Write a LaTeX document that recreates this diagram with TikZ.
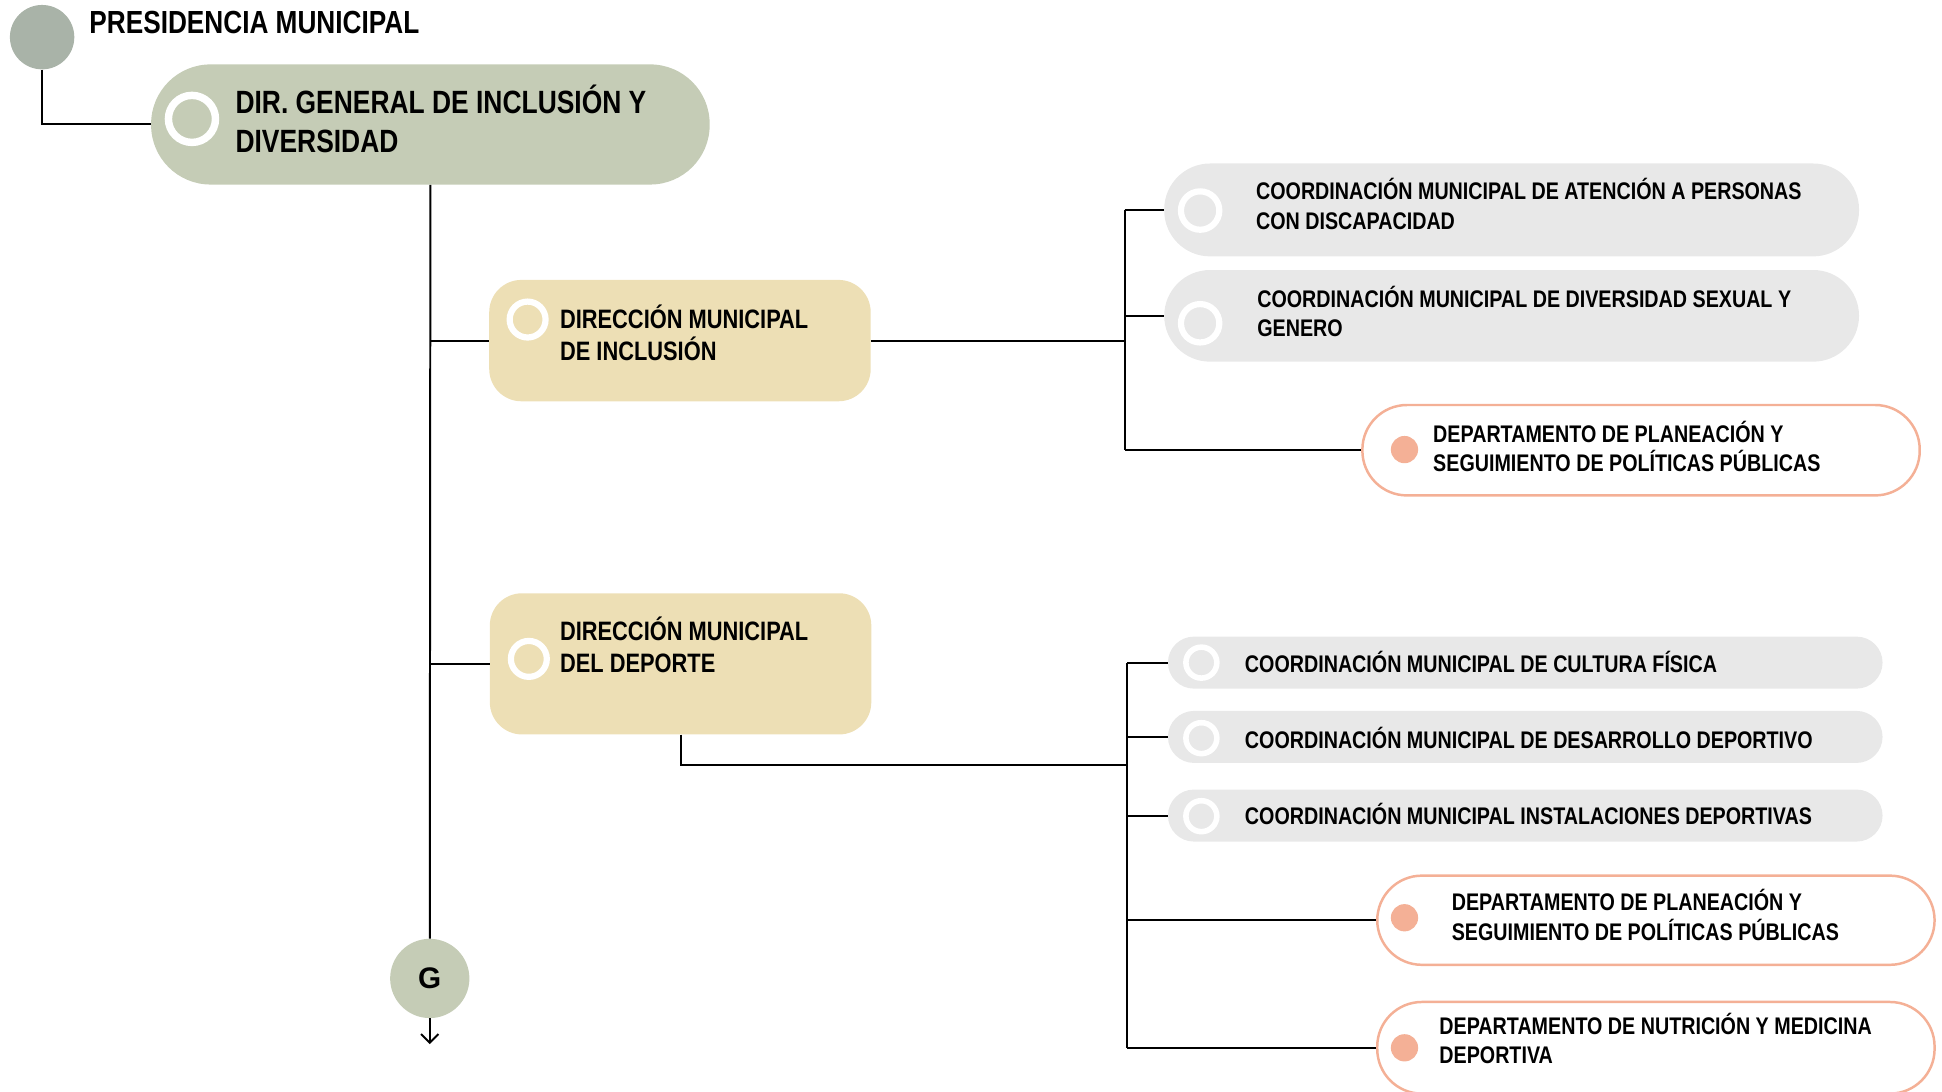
\documentclass[tikz,border=0pt]{standalone}
\usepackage{fontspec}
\setmainfont{Liberation Sans}[FakeStretch=0.82]
\newfontfamily\gfont{Liberation Sans}
\usetikzlibrary{arrows.meta}
\definecolor{presc}{HTML}{A9B3A8}
\definecolor{dgc}{HTML}{C5CCB6}
\definecolor{dirc}{HTML}{EDDFB5}
\definecolor{coc}{HTML}{E8E8E8}
\definecolor{salm}{HTML}{F4B096}
\tikzset{
  x=1pt, y=-1pt,
  boxnode/.style={rectangle, inner sep=0, draw=none},
  ringnode/.style={circle, draw=white, inner sep=0},
  dotnode/.style={circle, fill=salm, inner sep=0, minimum size=22},
  lbl/.style={anchor=base west, align=left, inner sep=0, font=\bfseries},
  conn/.style={line width=1.6pt, black},
  deptbox/.style={boxnode, fill=white, draw=salm, line width=2pt, minimum width=450, rounded corners=36},
  cobox/.style={boxnode, fill=coc, minimum width=561, rounded corners=37},
  cosbox/.style={boxnode, fill=coc, minimum width=577, minimum height=42, rounded corners=21},
  dirbox/.style={boxnode, fill=dirc, minimum width=308, rounded corners=26},
}
\begin{document}
\begin{tikzpicture}
\useasboundingbox (0,0) rectangle (1568,881);
% top level
\node[circle, fill=presc, minimum size=52, inner sep=0] (pres) at (34,30) {};
\node[lbl, font=\bfseries\fontsize{25.8}{30}\selectfont] (prest) at (72,27) {PRESIDENCIA MUNICIPAL};
\node[boxnode, fill=dgc, minimum width=451, minimum height=97, rounded corners=48] (dg) at (347.5,100.5) {};
\node[ringnode, fill=dgc, line width=6pt, minimum size=38] (dgr) at (155,96) {};
\node[lbl, font=\bfseries\fontsize{26}{31}\selectfont] (dgt) at (190,123) {DIR. GENERAL DE INCLUSIÓN Y\\DIVERSIDAD};
% direcciones
\node[dirbox, minimum height=98] (dinc) at (549,275) {};
\node[ringnode, fill=dirc, line width=5pt, minimum size=29] (dincr) at (426,258) {};
\node[lbl, font=\bfseries\fontsize{21.5}{26}\selectfont] (dinct) at (452,291) {DIRECCIÓN MUNICIPAL\\DE INCLUSIÓN};
\node[dirbox, minimum height=114] (ddep) at (549.5,536) {};
\node[ringnode, fill=dirc, line width=5pt, minimum size=29] (ddepr) at (427,532) {};
\node[lbl, font=\bfseries\fontsize{21.5}{26}\selectfont] (ddept) at (452,543) {DIRECCIÓN MUNICIPAL\\DEL DEPORTE};
% G
\node[circle, fill=dgc, minimum size=64, inner sep=0, font=\gfont\bfseries\fontsize{24}{28}\selectfont] (g) at (347,790) {G};
\coordinate (gend) at (347,843);
% inclusion children
\node[cobox, minimum height=75] (c1) at (1220.5,169.5) {};
\node[ringnode, fill=coc, line width=5pt, minimum size=31] (c1r) at (969,170) {};
\node[lbl, font=\bfseries\fontsize{19.4}{24}\selectfont] (c1t) at (1014,185) {COORDINACIÓN MUNICIPAL DE ATENCIÓN A PERSONAS\\CON DISCAPACIDAD};
\node[cobox, minimum height=74] (c2) at (1220.5,255) {};
\node[ringnode, fill=coc, line width=5pt, minimum size=31] (c2r) at (969,261) {};
\node[lbl, font=\bfseries\fontsize{19.4}{24}\selectfont] (c2t) at (1015,272) {COORDINACIÓN MUNICIPAL DE DIVERSIDAD SEXUAL Y\\GENERO};
\node[deptbox, minimum height=73] (d1) at (1325,363.5) {};
\node[dotnode] (d1r) at (1134,363) {};
\node[lbl, font=\bfseries\fontsize{19.4}{24}\selectfont] (d1t) at (1157,381) {DEPARTAMENTO DE PLANEACIÓN Y\\SEGUIMIENTO DE POLÍTICAS PÚBLICAS};
% deporte children
\node[cosbox] (c3) at (1231.5,535) {};
\node[ringnode, fill=coc, line width=4.5pt, minimum size=25] (c3r) at (970,535) {};
\node[lbl, font=\bfseries\fontsize{19.4}{24}\selectfont] (c3t) at (1005,543) {COORDINACIÓN MUNICIPAL DE CULTURA FÍSICA};
\node[cosbox] (c4) at (1231.5,595) {};
\node[ringnode, fill=coc, line width=4.5pt, minimum size=25] (c4r) at (970,596) {};
\node[lbl, font=\bfseries\fontsize{19.4}{24}\selectfont] (c4t) at (1005,604) {COORDINACIÓN MUNICIPAL DE DESARROLLO DEPORTIVO};
\node[cosbox] (c5) at (1231.5,658.5) {};
\node[ringnode, fill=coc, line width=4.5pt, minimum size=25] (c5r) at (970,659) {};
\node[lbl, font=\bfseries\fontsize{19.4}{24}\selectfont] (c5t) at (1005,666) {COORDINACIÓN MUNICIPAL INSTALACIONES DEPORTIVAS};
\node[deptbox, minimum height=72] (d2) at (1337,743) {};
\node[dotnode] (d2r) at (1134,741) {};
\node[lbl, font=\bfseries\fontsize{19.4}{24}\selectfont] (d2t) at (1172,759) {DEPARTAMENTO DE PLANEACIÓN Y\\SEGUIMIENTO DE POLÍTICAS PÚBLICAS};
\node[deptbox, minimum height=74] (d3) at (1337,846) {};
\node[dotnode] (d3r) at (1134,846) {};
\node[lbl, font=\bfseries\fontsize{19.4}{24}\selectfont] (d3t) at (1162,859) {DEPARTAMENTO DE NUTRICIÓN Y MEDICINA\\DEPORTIVA};
% buses
\coordinate (busA) at (908,275);
\coordinate (busB) at (910,618);
% connectors
\draw[conn] (pres.south) |- (dg.west);
\draw[conn] (dg.south) -- (g.north);
\draw[conn] (dg.south |- dinc.west) -- (dinc.west);
\draw[conn] (dg.south |- ddep.west) -- (ddep.west);
\draw[conn, -{Straight Barb[length=7pt,width=14pt]}] (g.south) -- (gend);
\draw[conn] (dinc.east) -- (busA);
\draw[conn] (busA |- c1.west) -- (busA |- d1.west);
\draw[conn] (busA |- c1.west) -- (c1.west);
\draw[conn] (busA |- c2.west) -- (c2.west);
\draw[conn] (busA |- d1.west) -- (d1.west);
\draw[conn] (ddep.south) |- (busB);
\draw[conn] (busB |- c3.west) -- (busB |- d3.west);
\draw[conn] (busB |- c3.west) -- (c3.west);
\draw[conn] (busB |- c4.west) -- (c4.west);
\draw[conn] (busB |- c5.west) -- (c5.west);
\draw[conn] (busB |- d2.west) -- (d2.west);
\draw[conn] (busB |- d3.west) -- (d3.west);
\end{tikzpicture}
\end{document}
